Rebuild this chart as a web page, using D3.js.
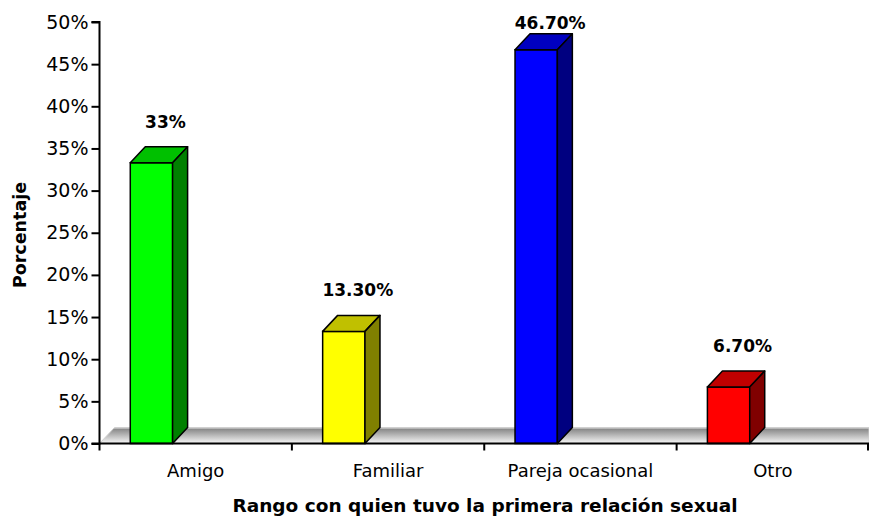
<!DOCTYPE html>
<html>
<head>
<meta charset="utf-8">
<script src="https://cdn.jsdelivr.net/npm/d3@7"></script>
<style>
  body { margin: 0; background: #fff; }
  text { font-family: "DejaVu Sans", Verdana, sans-serif; }
</style>
</head>
<body>
<div id="chart"></div>
<script>
// chart data
const categories = ["Amigo", "Familiar", "Pareja ocasional", "Otro"];
const values = [33.3, 13.3, 46.7, 6.7];
const valueLabels = ["33%", "13.30%", "46.70%", "6.70%"];
const yTicks = [0, 5, 10, 15, 20, 25, 30, 35, 40, 45, 50];
const frontColors = ["#00ff00", "#ffff00", "#0000ff", "#ff0000"];
const topColors = ["#00c000", "#c0c000", "#0000c0", "#c00000"];
const sideColors = ["#008000", "#808000", "#000080", "#800000"];

const width = 869, height = 519;
const x0 = 99.5, x1 = 869, yBase = 443.5, yTop = 22;
const depthX = 15, depthY = 16;

const svg = d3.select("#chart").append("svg")
    .attr("width", width)
    .attr("height", height);

const x = d3.scaleBand().domain(categories).range([x0, x1]).padding(0);
const y = d3.scaleLinear().domain([0, 50]).range([yBase, yTop]);

// floor gradient
const defs = svg.append("defs");
const grad = defs.append("linearGradient")
    .attr("id", "floorGrad")
    .attr("x1", 0).attr("y1", 0).attr("x2", 0).attr("y2", 1);
grad.append("stop").attr("offset", "0%").attr("stop-color", "#e6e6e6");
grad.append("stop").attr("offset", "12%").attr("stop-color", "#8c8c8c");
grad.append("stop").attr("offset", "100%").attr("stop-color", "#f8f8f8");

// floor
svg.append("path")
    .attr("d", `M${x0},${yBase} L${x0 + depthX},${yBase - depthY} L${x1},${yBase - depthY} L${x1},${yBase} Z`)
    .attr("fill", "url(#floorGrad)")
    .attr("stroke", "#d0d0d0")
    .attr("stroke-width", 1);

// bars
const bw = x.bandwidth();
const bars = svg.selectAll(".bar")
    .data(categories)
    .enter()
    .append("g")
    .attr("class", "bar");

bars.each(function(c, i) {
    const g = d3.select(this);
    const fx = x(c) + bw * 0.16;
    const fw = bw * 0.22;
    const ty = y(values[i]);
    // front
    g.append("rect")
        .attr("x", fx).attr("y", ty)
        .attr("width", fw).attr("height", yBase - ty)
        .attr("fill", frontColors[i])
        .attr("stroke", "#000").attr("stroke-width", 1.5);
    // top
    g.append("path")
        .attr("d", `M${fx},${ty} L${fx + depthX},${ty - depthY} L${fx + fw + depthX},${ty - depthY} L${fx + fw},${ty} Z`)
        .attr("fill", topColors[i])
        .attr("stroke", "#000").attr("stroke-width", 1.5)
        .attr("stroke-linejoin", "round");
    // side
    g.append("path")
        .attr("d", `M${fx + fw},${ty} L${fx + fw + depthX},${ty - depthY} L${fx + fw + depthX},${yBase - depthY} L${fx + fw},${yBase} Z`)
        .attr("fill", sideColors[i])
        .attr("stroke", "#000").attr("stroke-width", 1.5)
        .attr("stroke-linejoin", "round");
    // value label
    g.append("text")
        .attr("x", fx + fw / 2 + 14)
        .attr("y", Math.max(29, ty - depthY - 19))
        .attr("text-anchor", "middle")
        .style("font-size", "17px")
        .style("font-weight", "bold")
        .text(valueLabels[i]);
});

// y axis
const yAxis = svg.append("g")
    .attr("transform", `translate(${x0},0)`)
    .call(d3.axisLeft(y).tickValues(yTicks).tickSize(8).tickPadding(3).tickFormat(d => d + "%"));
yAxis.select(".domain").attr("stroke-width", 2).attr("d", `M-8,${yTop}H0V${yBase}H-8`);
yAxis.selectAll(".tick line").attr("stroke-width", 2);
yAxis.selectAll("text").style("font-size", "19px").attr("fill", "#000");

// x axis line
svg.append("line")
    .attr("x1", x0).attr("x2", x1)
    .attr("y1", yBase).attr("y2", yBase)
    .attr("stroke", "#000").attr("stroke-width", 2);

// x axis boundary ticks
const bounds = categories.map(c => x(c)).concat([x1 - 1]);
svg.selectAll(".xtick")
    .data(bounds)
    .enter()
    .append("line")
    .attr("x1", d => d).attr("x2", d => d)
    .attr("y1", yBase).attr("y2", yBase + 7)
    .attr("stroke", "#000").attr("stroke-width", 2);

// x axis labels
svg.selectAll(".xlabel")
    .data(categories)
    .enter()
    .append("text")
    .attr("x", d => x(d) + bw / 2)
    .attr("y", 477)
    .attr("text-anchor", "middle")
    .style("font-size", "18px")
    .text(d => d);

// axis titles
svg.append("text")
    .attr("transform", "rotate(-90)")
    .attr("x", -235)
    .attr("y", 26)
    .attr("text-anchor", "middle")
    .style("font-size", "17.5px")
    .style("font-weight", "bold")
    .text("Porcentaje");

svg.append("text")
    .attr("x", 485)
    .attr("y", 512)
    .attr("text-anchor", "middle")
    .style("font-size", "18.5px")
    .style("font-weight", "bold")
    .text("Rango con quien tuvo la primera relación sexual");
</script>
</body>
</html>
